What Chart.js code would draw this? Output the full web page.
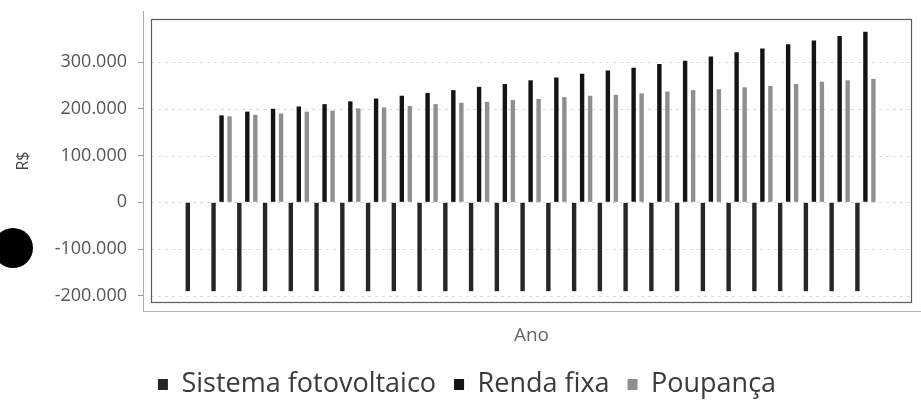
<!DOCTYPE html>
<html>
<head>
<meta charset="utf-8">
<script src="https://cdn.jsdelivr.net/npm/chart.js@4.4.1/dist/chart.umd.min.js"></script>
<style>
  html, body { margin: 0; padding: 0; background: #ffffff; }
  #wrap { position: relative; width: 921px; height: 411px; overflow: hidden; }
  #dot { position: absolute; left: -7px; top: 228px; width: 40px; height: 40px; border-radius: 50%; background: #000; }
  canvas { position: absolute; left: 0; top: 0; }
</style>
</head>
<body>
<div id="wrap">
  <canvas id="c" width="921" height="411"></canvas>
  <div id="dot"></div>
</div>
<script>
// ---- Data ----
const anos = [0, 1, 2, 3, 4, 5, 6, 7, 8, 9, 10, 11, 12, 13, 14, 15, 16, 17, 18, 19, 20, 21, 22, 23, 24, 25, 26];
const sistemaFotovoltaico = [-190000, -190000, -190000, -190000, -190000, -190000, -190000, -190000, -190000,
  -190000, -190000, -190000, -190000, -190000, -190000, -190000, -190000, -190000, -190000, -190000, -190000,
  -190000, -190000, -190000, -190000, -190000, -190000];
const rendaFixa = [null, 186000, 194000, 200000, 205000, 210000, 216000, 222000, 228000, 234000, 240000,
  247000, 253000, 261000, 267000, 275000, 282000, 288000, 296000, 303000, 312000, 321000, 329000, 338000,
  346000, 356000, 365000];
const poupanca = [null, 184000, 187000, 190000, 194000, 196000, 201000, 203000, 206000, 210000, 213000,
  215000, 219000, 221000, 225000, 228000, 230000, 233000, 237000, 240000, 242000, 246000, 249000, 253000,
  258000, 261000, 264000];
const yTicks = [-200000, -100000, 0, 100000, 200000, 300000];
const seriesNames = ['Sistema fotovoltaico', 'Renda fixa', 'Poupança'];

function fmt(v) {
  const neg = v < 0;
  let s = String(Math.abs(Math.round(v)));
  s = s.replace(/\B(?=(\d{3})+(?!\d))/g, '.');
  return (neg ? '-' : '') + s;
}
function pts(arr) { return anos.map((a, i) => ({ x: a, y: arr[i] })); }

const boxPlugin = {
  id: 'boxPlugin',
  beforeDatasetsDraw(chart) {
    const { ctx, chartArea } = chart;
    const ys = chart.scales.y;
    const L = chartArea.left + 8, R = chartArea.right - 8;
    ctx.save();
    ctx.strokeStyle = 'rgba(190,190,190,0.55)';
    ctx.lineWidth = 1;
    ctx.setLineDash([3, 4]);
    ys.ticks.forEach(t => {
      const y = Math.round(ys.getPixelForValue(t.value)) + 0.5;
      ctx.beginPath();
      ctx.moveTo(L, y);
      ctx.lineTo(R, y);
      ctx.stroke();
    });
    ctx.restore();
  },
  afterDatasetsDraw(chart) {
    const { ctx, chartArea } = chart;
    ctx.save();
    ctx.strokeStyle = '#5a5a5a';
    ctx.lineWidth = 1.2;
    ctx.strokeRect(chartArea.left + 8.5, chartArea.top + 8.5,
      chartArea.right - chartArea.left - 17, chartArea.bottom - chartArea.top - 17);
    ctx.restore();
  }
};

const FONT = "'Open Sans', 'Noto Sans', sans-serif";

new Chart(document.getElementById('c'), {
  type: 'bar',
  data: {
    datasets: [
      { label: seriesNames[0], data: pts(sistemaFotovoltaico), backgroundColor: '#262626', borderWidth: 0 },
      { label: seriesNames[1], data: pts(rendaFixa), backgroundColor: '#141414', borderWidth: 0 },
      { label: seriesNames[2], data: pts(poupanca), backgroundColor: '#8f8f8f', borderWidth: 0 }
    ]
  },
  options: {
    responsive: false,
    animation: false,
    devicePixelRatio: 1,
    categoryPercentage: 0.932,
    barPercentage: 0.55,
    layout: { padding: { left: 14, right: 1, top: 11, bottom: 3 } },
    plugins: {
      tooltip: { enabled: false },
      legend: {
        position: 'bottom',
        labels: {
          boxWidth: 10,
          boxHeight: 11,
          padding: 18,
          color: '#3a3a3a',
          font: { family: FONT, size: 27 }
        }
      }
    },
    scales: {
      x: {
        type: 'linear',
        min: -2.05,
        max: 28.12,
        offset: false,
        ticks: { display: false },
        grid: { display: false, drawOnChartArea: false, drawTicks: false },
        border: { display: true, color: '#b5b5b5', dash: [2, 2] },
        title: {
          display: true,
          text: 'Ano',
          color: '#666',
          font: { family: FONT, size: 19 },
          padding: { top: 18, bottom: 6 }
        },
        afterFit(scale) { scale.height = 42; }
      },
      y: {
        type: 'linear',
        min: -232400,
        max: 409200,
        afterBuildTicks(scale) {
          scale.ticks = yTicks.map(v => ({ value: v }));
        },
        ticks: {
          color: '#555',
          padding: 11,
          font: { family: FONT, size: 18 },
          callback: (v) => fmt(v)
        },
        grid: { display: true, drawOnChartArea: false, drawTicks: true, tickLength: 5, color: '#999' },
        border: { display: true, color: '#aaa' },
        title: {
          display: true,
          text: 'R$',
          color: '#444',
          font: { family: FONT, size: 16 },
          padding: { top: 0, bottom: 10 }
        },
        afterFit(scale) {
          scale.width = 129;
          scale.paddingTop = 0;
          scale.paddingBottom = 0;
        }
      }
    }
  },
  plugins: [boxPlugin]
});
</script>
</body>
</html>
